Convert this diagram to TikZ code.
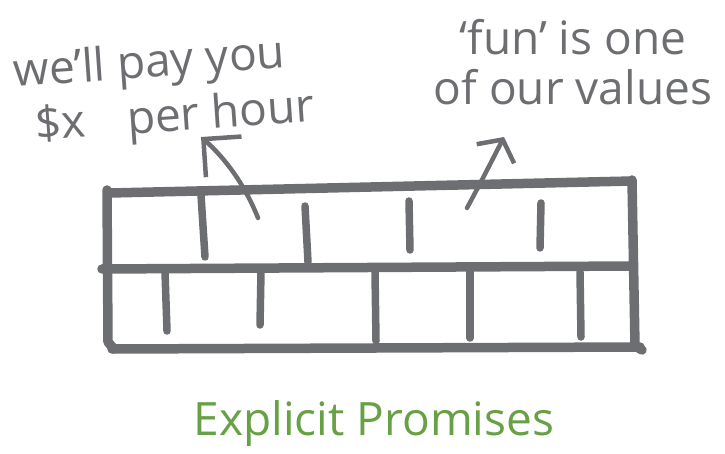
\documentclass[tikz,border=0pt]{standalone}
\usepackage{fontspec}
\setmainfont{Open Sans}
\usetikzlibrary{arrows.meta}
\definecolor{sketchgrey}{RGB}{109,110,113}
\definecolor{sketchgreen}{RGB}{104,160,69}
\tikzset{
    wallline/.style={line width=9.5pt, line cap=round, line join=round, draw=sketchgrey},
    jointline/.style={line width=7.5pt, line cap=round, draw=sketchgrey},
    notearrow/.style={-{Straight Barb[length=27pt,width=54pt]}, line width=4.5pt, line cap=round, draw=sketchgrey},
    notetext/.style={text=sketchgrey, font=\fontsize{46}{55}\selectfont, inner sep=0pt},
    captiontext/.style={text=sketchgreen, font=\fontsize{46}{55}\selectfont, inner sep=0pt}
}
\begin{document}
\begin{tikzpicture}[x=1pt,y=-1pt]
    \useasboundingbox (0,0) rectangle (725,454);
    % wall
    \draw[wallline] (110,193) -- (632,181);
    \draw[wallline] (102,269) -- (633,266);
    \draw[wallline] (112,349) -- (640,347);
    \draw[wallline] (107,190) -- (108,342) -- (114,349);
    \draw[wallline] (632,180) -- (635,346) -- (642,350);
    % joints
    \foreach \xa/\ya/\xb/\yb in {201/195/205/257, 305/206/308/262, 409/201/410/250, 541/203/540/248,
        165/272/167/331, 261/272/260/325, 375/272/376/341, 470/272/470/338, 580/272/581/337}
        \draw[jointline] (\xa,\ya) -- (\xb,\yb);
    % notes
    \node[notetext, align=left, rotate=4] (pay) at (164,92) {we'll pay you\\\hspace{0.4em}\$x\hspace{0.9em}per hour};
    \node[notetext, align=center, font=\fontsize{46}{50}\selectfont] (fun) at (573,62) {`fun' is one\\of our values};
    \node[captiontext, anchor=base] (promises) at (374,435) {Explicit Promises};
    \coordinate (payTail) at (258,218);
    \coordinate (payTip) at (201,137);
    \coordinate (funTail) at (467,208);
    \coordinate (funTip) at (504,137);
    \draw[notearrow] (payTail) .. controls (245,185) and (225,158) .. (payTip);
    \draw[notearrow, -{Straight Barb[length=16pt,width=42pt]}] (funTail) .. controls (482,180) .. (funTip);
\end{tikzpicture}
\end{document}
